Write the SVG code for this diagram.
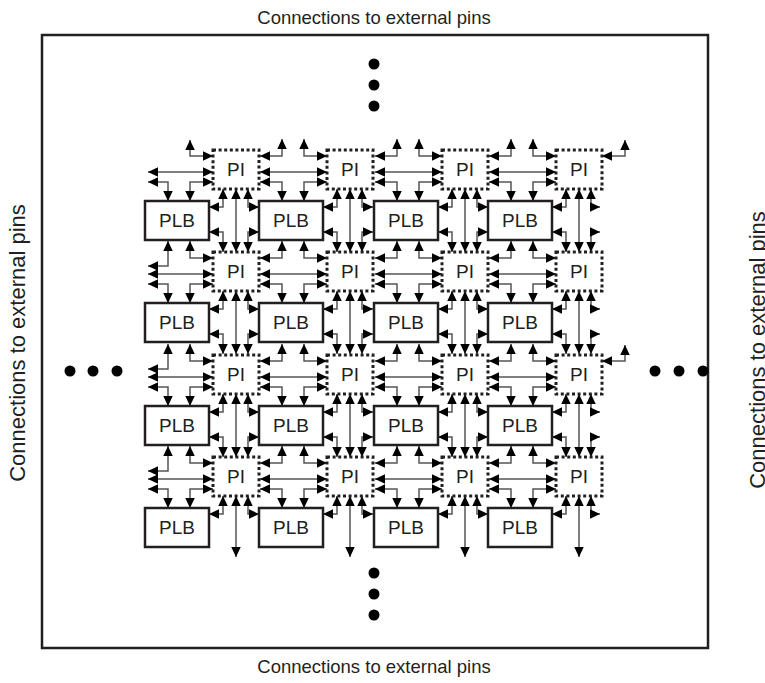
<svg xmlns="http://www.w3.org/2000/svg" width="765" height="683" viewBox="0 0 765 683">
  <style>
    .lbl { font-family: "Liberation Sans", Arial, sans-serif; fill: #231f20; }
    .edge { font-size: 18.5px; }
    .side { font-size: 22px; }
    .node { font-size: 19px; text-anchor: middle; }
    .plb { fill: #fff; stroke: #231f20; stroke-width: 2.5; }
    .pi { fill: #fff; stroke: #231f20; stroke-width: 3; stroke-dasharray: 3 2.6; }
    .c path { fill: none; stroke: #555; stroke-width: 1.5; marker-start: url(#ah); marker-end: url(#ah); }
    .dot { fill: #000; }
  </style>
  <defs>
    <marker id="ah" viewBox="0 0 10 10" refX="10" refY="5" markerWidth="10" markerHeight="9.5" markerUnits="userSpaceOnUse" orient="auto-start-reverse" preserveAspectRatio="none">
      <path d="M0,0 L10,5 L0,10 z" fill="#000" stroke="none"/>
    </marker>
    <!-- horizontal channel beside a PI, origin = (PLB x, PI y) -->
    <g id="hIn" class="c">
      <path d="M23,-11V6H1"/>
      <path d="M45,-11V6H68"/>
      <path d="M1,22H68"/>
      <path d="M1,32H23V51"/>
      <path d="M68,32H45V51"/>
    </g>
    <g id="hEdge" class="c">
      <path d="M23,-11V14H3"/>
      <path d="M45,-11V6H68"/>
      <path d="M3,22H68"/>
      <path d="M3,32H23V51"/>
      <path d="M68,32H45V51"/>
    </g>
    <g id="hEdgeTop" class="c">
      <path d="M45,-10V6H68"/>
      <path d="M3,22H68"/>
      <path d="M3,32H23V51"/>
      <path d="M68,32H45V51"/>
    </g>
    <g id="hRight" class="c">
      <path d="M23,-10V6H0"/>
    </g>
    <!-- vertical channel below a PI, origin = (PLB x, PLB y) -->
    <g id="vIn" class="c">
      <path d="M78,-12V6H64"/>
      <path d="M103,-12V6H114"/>
      <path d="M91,-12V51"/>
      <path d="M64,31H78V51"/>
      <path d="M114,31H103V51"/>
    </g>
    <g id="vLast" class="c">
      <path d="M78,-12V6H64"/>
      <path d="M103,-12V6H112"/>
      <path d="M91,-12V51"/>
      <path d="M64,31H78V51"/>
      <path d="M112,31H103V51"/>
    </g>
    <g id="vBot" class="c">
      <path d="M78,-12V6H64"/>
      <path d="M103,-12V6H114"/>
      <path d="M91,-12V49"/>
    </g>
    <g id="vBotLast" class="c">
      <path d="M78,-12V6H64"/>
      <path d="M103,-12V6H112"/>
      <path d="M91,-12V49"/>
    </g>
  </defs>

  <rect width="765" height="683" fill="#fff"/>

  <!-- chip outline -->
  <rect x="42" y="35" width="666" height="613" fill="none" stroke="#231f20" stroke-width="2.5"/>

  <text class="lbl edge" x="374" y="24" text-anchor="middle">Connections to external pins</text>
  <text class="lbl edge" x="374" y="673" text-anchor="middle">Connections to external pins</text>
  <text class="lbl side" transform="translate(25,343) rotate(-90)" text-anchor="middle">Connections to external pins</text>
  <text class="lbl side" transform="translate(765,350) rotate(-90)" text-anchor="middle">Connections to external pins</text>

  <!-- continuation dots -->
  <g id="dots">
    <circle class="dot" cx="374" cy="64" r="5.5"/>
    <circle class="dot" cx="374" cy="85" r="5.5"/>
    <circle class="dot" cx="374" cy="106" r="5.5"/>
    <circle class="dot" cx="374" cy="573" r="5.5"/>
    <circle class="dot" cx="374" cy="594" r="5.5"/>
    <circle class="dot" cx="374" cy="615" r="5.5"/>
    <circle class="dot" cx="70" cy="371" r="5.5"/>
    <circle class="dot" cx="93" cy="371" r="5.5"/>
    <circle class="dot" cx="117" cy="371" r="5.5"/>
    <circle class="dot" cx="655" cy="371" r="5.5"/>
    <circle class="dot" cx="679" cy="371" r="5.5"/>
    <circle class="dot" cx="703" cy="371" r="5.5"/>
  </g>

  <!-- connectors -->
  <g id="connectors">
    <use href="#hEdgeTop" x="145" y="150"/>
    <use href="#hEdge" x="145" y="252"/>
    <use href="#hEdge" x="145" y="355"/>
    <use href="#hEdge" x="145" y="457"/>
    <use href="#hIn" x="259" y="150"/>
    <use href="#hIn" x="374" y="150"/>
    <use href="#hIn" x="488" y="150"/>
    <use href="#hIn" x="259" y="252"/>
    <use href="#hIn" x="374" y="252"/>
    <use href="#hIn" x="488" y="252"/>
    <use href="#hIn" x="259" y="355"/>
    <use href="#hIn" x="374" y="355"/>
    <use href="#hIn" x="488" y="355"/>
    <use href="#hIn" x="259" y="457"/>
    <use href="#hIn" x="374" y="457"/>
    <use href="#hIn" x="488" y="457"/>
    <use href="#hRight" x="602" y="150"/>
    <use href="#hRight" x="602" y="355"/>

    <use href="#vIn" x="145" y="201"/>
    <use href="#vIn" x="259" y="201"/>
    <use href="#vIn" x="374" y="201"/>
    <use href="#vLast" x="488" y="201"/>
    <use href="#vIn" x="145" y="303"/>
    <use href="#vIn" x="259" y="303"/>
    <use href="#vIn" x="374" y="303"/>
    <use href="#vLast" x="488" y="303"/>
    <use href="#vIn" x="145" y="406"/>
    <use href="#vIn" x="259" y="406"/>
    <use href="#vIn" x="374" y="406"/>
    <use href="#vLast" x="488" y="406"/>
    <use href="#vBot" x="145" y="508"/>
    <use href="#vBot" x="259" y="508"/>
    <use href="#vBot" x="374" y="508"/>
    <use href="#vBotLast" x="488" y="508"/>
  </g>

  <!-- programmable interconnect blocks -->
  <g id="pi-1-1"><rect class="pi" x="213" y="150" width="46" height="39"/><text class="lbl node" x="236" y="176">PI</text></g>
  <g id="pi-1-2"><rect class="pi" x="327" y="150" width="46" height="39"/><text class="lbl node" x="350" y="176">PI</text></g>
  <g id="pi-1-3"><rect class="pi" x="442" y="150" width="46" height="39"/><text class="lbl node" x="465" y="176">PI</text></g>
  <g id="pi-1-4"><rect class="pi" x="556" y="150" width="46" height="39"/><text class="lbl node" x="579" y="176">PI</text></g>
  <g id="pi-2-1"><rect class="pi" x="213" y="252" width="46" height="39"/><text class="lbl node" x="236" y="278">PI</text></g>
  <g id="pi-2-2"><rect class="pi" x="327" y="252" width="46" height="39"/><text class="lbl node" x="350" y="278">PI</text></g>
  <g id="pi-2-3"><rect class="pi" x="442" y="252" width="46" height="39"/><text class="lbl node" x="465" y="278">PI</text></g>
  <g id="pi-2-4"><rect class="pi" x="556" y="252" width="46" height="39"/><text class="lbl node" x="579" y="278">PI</text></g>
  <g id="pi-3-1"><rect class="pi" x="213" y="355" width="46" height="39"/><text class="lbl node" x="236" y="381">PI</text></g>
  <g id="pi-3-2"><rect class="pi" x="327" y="355" width="46" height="39"/><text class="lbl node" x="350" y="381">PI</text></g>
  <g id="pi-3-3"><rect class="pi" x="442" y="355" width="46" height="39"/><text class="lbl node" x="465" y="381">PI</text></g>
  <g id="pi-3-4"><rect class="pi" x="556" y="355" width="46" height="39"/><text class="lbl node" x="579" y="381">PI</text></g>
  <g id="pi-4-1"><rect class="pi" x="213" y="457" width="46" height="39"/><text class="lbl node" x="236" y="483">PI</text></g>
  <g id="pi-4-2"><rect class="pi" x="327" y="457" width="46" height="39"/><text class="lbl node" x="350" y="483">PI</text></g>
  <g id="pi-4-3"><rect class="pi" x="442" y="457" width="46" height="39"/><text class="lbl node" x="465" y="483">PI</text></g>
  <g id="pi-4-4"><rect class="pi" x="556" y="457" width="46" height="39"/><text class="lbl node" x="579" y="483">PI</text></g>

  <!-- programmable logic blocks -->
  <g id="plb-1-1"><rect class="plb" x="145" y="201" width="64" height="39"/><text class="lbl node" x="177" y="227">PLB</text></g>
  <g id="plb-1-2"><rect class="plb" x="259" y="201" width="64" height="39"/><text class="lbl node" x="291" y="227">PLB</text></g>
  <g id="plb-1-3"><rect class="plb" x="374" y="201" width="64" height="39"/><text class="lbl node" x="406" y="227">PLB</text></g>
  <g id="plb-1-4"><rect class="plb" x="488" y="201" width="64" height="39"/><text class="lbl node" x="520" y="227">PLB</text></g>
  <g id="plb-2-1"><rect class="plb" x="145" y="303" width="64" height="39"/><text class="lbl node" x="177" y="329">PLB</text></g>
  <g id="plb-2-2"><rect class="plb" x="259" y="303" width="64" height="39"/><text class="lbl node" x="291" y="329">PLB</text></g>
  <g id="plb-2-3"><rect class="plb" x="374" y="303" width="64" height="39"/><text class="lbl node" x="406" y="329">PLB</text></g>
  <g id="plb-2-4"><rect class="plb" x="488" y="303" width="64" height="39"/><text class="lbl node" x="520" y="329">PLB</text></g>
  <g id="plb-3-1"><rect class="plb" x="145" y="406" width="64" height="39"/><text class="lbl node" x="177" y="432">PLB</text></g>
  <g id="plb-3-2"><rect class="plb" x="259" y="406" width="64" height="39"/><text class="lbl node" x="291" y="432">PLB</text></g>
  <g id="plb-3-3"><rect class="plb" x="374" y="406" width="64" height="39"/><text class="lbl node" x="406" y="432">PLB</text></g>
  <g id="plb-3-4"><rect class="plb" x="488" y="406" width="64" height="39"/><text class="lbl node" x="520" y="432">PLB</text></g>
  <g id="plb-4-1"><rect class="plb" x="145" y="508" width="64" height="39"/><text class="lbl node" x="177" y="534">PLB</text></g>
  <g id="plb-4-2"><rect class="plb" x="259" y="508" width="64" height="39"/><text class="lbl node" x="291" y="534">PLB</text></g>
  <g id="plb-4-3"><rect class="plb" x="374" y="508" width="64" height="39"/><text class="lbl node" x="406" y="534">PLB</text></g>
  <g id="plb-4-4"><rect class="plb" x="488" y="508" width="64" height="39"/><text class="lbl node" x="520" y="534">PLB</text></g>
</svg>
